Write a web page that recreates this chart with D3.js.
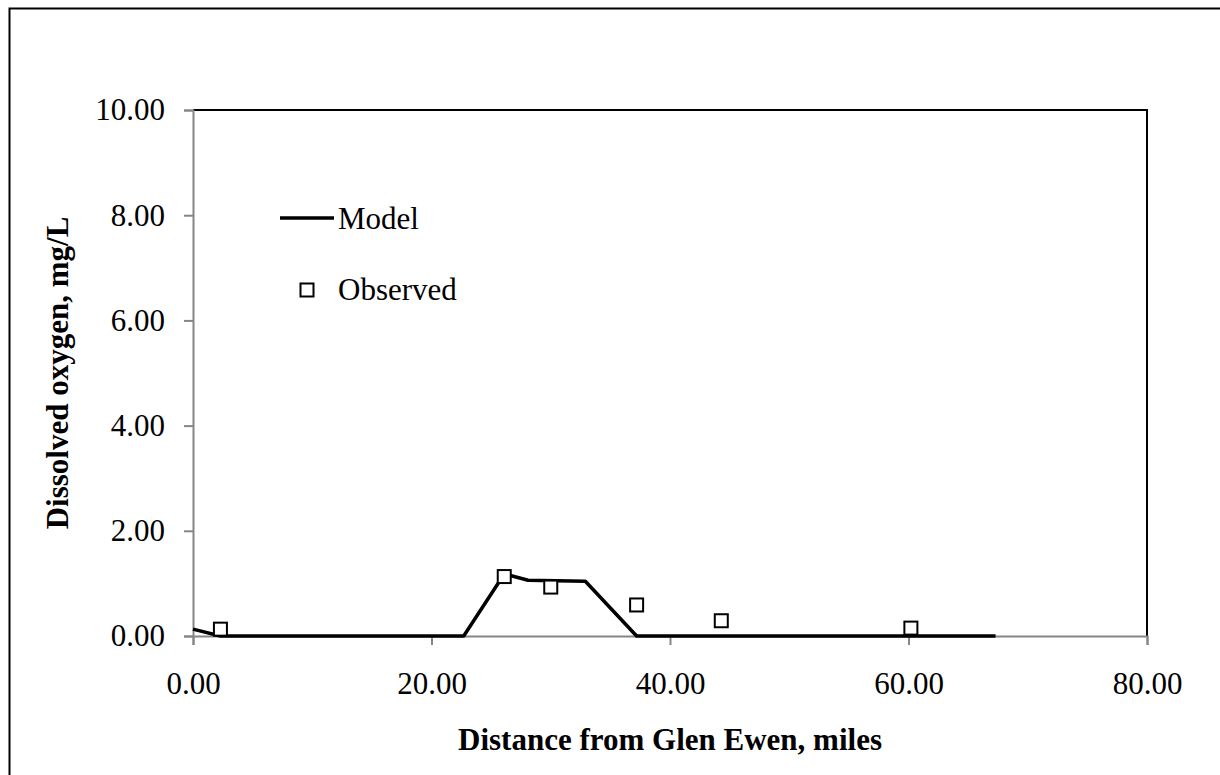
<!DOCTYPE html>
<html>
<head>
<meta charset="utf-8">
<script src="https://cdn.jsdelivr.net/npm/d3@7"></script>
<style>
  html, body { margin: 0; padding: 0; background: #fff; }
  svg { display: block; }
  text { font-family: "Liberation Serif", "Times New Roman", serif; fill: #000; }
</style>
</head>
<body>
<svg id="chart" width="1220" height="775"></svg>
<script>
// Model profile: distance (miles) and dissolved oxygen (mg/L)
const modelDistance = [0, 2.3, 22.7, 26.1, 28.1, 32.9, 37.2, 67.3];
const modelDO       = [0.13, 0, 0, 1.18, 1.06, 1.04, 0, 0];

// Observed samples
const obsDistance = [2.3, 26.1, 30.0, 37.2, 44.3, 60.2];
const obsDO       = [0.13, 1.13, 0.93, 0.59, 0.29, 0.15];

// Axis ticks
const xTicks = [0, 20, 40, 60, 80];
const yTicks = [0, 2, 4, 6, 8, 10];

const svg = d3.select("#chart");
const plot = { left: 193, right: 1147, top: 110, bottom: 636 };

const x = d3.scaleLinear().domain([0, 80]).range([plot.left, plot.right]);
const y = d3.scaleLinear().domain([0, 10]).range([plot.bottom, plot.top]);
const fmt = d3.format(".2f");

// Chart frame
svg.append("rect")
  .attr("x", 9.5).attr("y", 8.5)
  .attr("width", 1300).attr("height", 900)
  .attr("fill", "none").attr("stroke", "#000").attr("stroke-width", 2);

// Plot area border (top and right)
svg.append("path")
  .attr("d", `M${plot.left},${plot.top}H${plot.right}V${plot.bottom}`)
  .attr("fill", "none").attr("stroke", "#000").attr("stroke-width", 2);

// X axis
const xAxis = svg.append("g")
  .attr("transform", `translate(0,${plot.bottom})`)
  .call(d3.axisBottom(x).tickValues(xTicks).tickFormat(fmt).tickSize(9).tickPadding(27));
xAxis.select(".domain").attr("stroke", "#868686").attr("stroke-width", 2);
xAxis.selectAll(".tick line").attr("stroke", "#868686").attr("stroke-width", 2);
xAxis.selectAll(".tick text")
  .attr("font-family", "Liberation Serif, serif").attr("font-size", 31).attr("fill", "#000");

// Y axis
const yAxis = svg.append("g")
  .attr("transform", `translate(${plot.left},0)`)
  .call(d3.axisLeft(y).tickValues(yTicks).tickFormat(fmt).tickSize(9).tickPadding(19));
yAxis.select(".domain").attr("stroke", "#868686").attr("stroke-width", 2);
yAxis.selectAll(".tick line").attr("stroke", "#868686").attr("stroke-width", 2);
yAxis.selectAll(".tick text")
  .attr("font-family", "Liberation Serif, serif").attr("font-size", 31).attr("fill", "#000");

// Axis titles
svg.append("text")
  .attr("x", (plot.left + plot.right) / 2).attr("y", 750)
  .attr("text-anchor", "middle").attr("font-size", 31).attr("font-weight", "bold")
  .text("Distance from Glen Ewen, miles");

svg.append("text")
  .attr("transform", `translate(68,${(plot.top + plot.bottom) / 2}) rotate(-90)`)
  .attr("text-anchor", "middle").attr("font-size", 31).attr("font-weight", "bold")
  .text("Dissolved oxygen, mg/L");

// Model line
const modelPts = modelDistance.map((d, i) => [d, modelDO[i]]);
svg.append("path")
  .datum(modelPts)
  .attr("d", d3.line().x(d => x(d[0])).y(d => y(d[1])))
  .attr("fill", "none").attr("stroke", "#000").attr("stroke-width", 3.5)
  .attr("stroke-linejoin", "round");

// Observed markers
const obsPts = obsDistance.map((d, i) => [d, obsDO[i]]);
const sq = 13;
svg.append("g").selectAll("rect")
  .data(obsPts)
  .join("rect")
  .attr("x", d => x(d[0]) - sq / 2).attr("y", d => y(d[1]) - sq / 2)
  .attr("width", sq).attr("height", sq)
  .attr("fill", "#fff").attr("stroke", "#000").attr("stroke-width", 2);

// Legend
const legend = svg.append("g");
legend.append("line")
  .attr("x1", 280).attr("x2", 334).attr("y1", 218).attr("y2", 218)
  .attr("stroke", "#000").attr("stroke-width", 3.5);
legend.append("text").attr("x", 338).attr("y", 229).attr("font-size", 31).text("Model");
legend.append("rect")
  .attr("x", 307 - sq / 2).attr("y", 290 - sq / 2).attr("width", sq).attr("height", sq)
  .attr("fill", "#fff").attr("stroke", "#000").attr("stroke-width", 2);
legend.append("text").attr("x", 338).attr("y", 300).attr("font-size", 31).text("Observed");
</script>
</body>
</html>
